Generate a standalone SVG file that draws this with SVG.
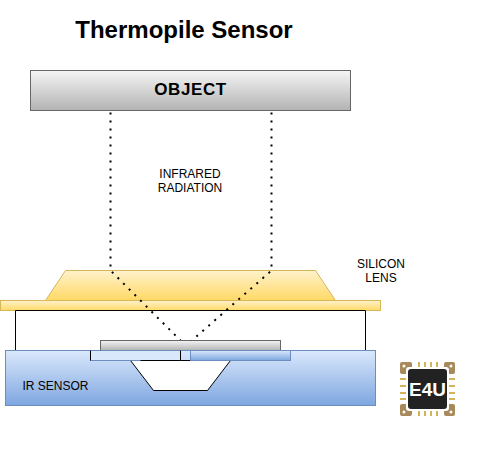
<svg xmlns="http://www.w3.org/2000/svg" width="500" height="458" viewBox="0 0 500 458">
<style>
text{font-family:"Liberation Sans",Arial,sans-serif;fill:#000;text-anchor:middle}
.s{font-size:12px}
.ray{fill:none;stroke:#000;stroke-width:2;stroke-dasharray:2 6}
</style>
<defs>
<linearGradient id="gray" x1="0" y1="0" x2="0" y2="1"><stop offset="0" stop-color="#f5f5f5"/><stop offset="1" stop-color="#b3b3b3"/></linearGradient>
<linearGradient id="yel" x1="0" y1="0" x2="0" y2="1"><stop offset="0" stop-color="#fff2cc"/><stop offset="1" stop-color="#ffd966"/></linearGradient>
<linearGradient id="blue" x1="0" y1="0" x2="0" y2="1"><stop offset="0" stop-color="#dae8fc"/><stop offset="1" stop-color="#7ea6e0"/></linearGradient>
</defs>
<g id="title"><text x="184" y="38" font-size="24" font-weight="bold">Thermopile Sensor</text></g>
<g id="object"><rect x="30.500" y="70.500" width="320" height="40" fill="url(#gray)" stroke="#666"/><text x="190.500" y="95" font-size="17" font-weight="bold" letter-spacing="0.600">OBJECT</text></g>
<g id="infrared-label"><text class="s" x="190" y="178">INFRARED</text><text class="s" x="190" y="192">RADIATION</text></g>
<g id="lens"><path d="M65.500 270.500H315.500L335.500 300.500H45.500Z" fill="url(#yel)" stroke="#d6b656"/></g>
<g id="lens-plate"><rect x="0.500" y="300.500" width="380" height="10" fill="url(#yel)" stroke="#d6b656"/></g>
<g id="lens-label"><text class="s" x="381" y="268">SILICON</text><text class="s" x="381" y="282">LENS</text></g>
<g id="housing"><path d="M15.500 350.500V310.500H365.500V350.500" fill="#fff" stroke="#000"/></g>
<g id="connectors"><path class="ray" d="M110.500 112.500V270.500L180.500 340.500"/><path class="ray" d="M271.500 112.500V270.500L180.500 350.500"/></g>
<g id="chip"><rect x="100.500" y="340.500" width="180" height="10" fill="url(#gray)" stroke="#666"/></g>
<g id="ir-sensor"><rect x="5.500" y="350.500" width="370" height="55" fill="url(#blue)" stroke="#6c8ebf"/><text class="s" x="55.500" y="390">IR SENSOR</text></g>
<g id="cavity"><path d="M130.500 360.500H230.500L207.500 390.500H153.500Z" fill="#fff" stroke="#000"/></g>
<g id="contact-left"><rect x="90.500" y="350.500" width="90" height="10" fill="#dae8fc" stroke="#6c8ebf"/><path d="M90.500 350.500V360.500M140.500 360.500H180.500V350.500" fill="none" stroke="#000"/></g>
<g id="contact-right"><rect x="190.500" y="350.500" width="100" height="10" fill="url(#blue)" stroke="#6c8ebf"/></g>
<g id="logo">
<g fill="#d4b45a">
<rect x="418" y="362" width="2" height="6"/><rect x="424" y="362" width="2" height="6"/><rect x="430" y="362" width="2" height="6"/><rect x="436" y="362" width="2" height="6"/>
<rect x="418" y="410" width="2" height="6"/><rect x="424" y="410" width="2" height="6"/><rect x="430" y="410" width="2" height="6"/><rect x="436" y="410" width="2" height="6"/>
<rect x="400" y="378" width="6" height="2"/><rect x="400" y="385" width="6" height="2"/><rect x="400" y="392" width="6" height="2"/><rect x="400" y="398" width="6" height="2"/>
<rect x="449" y="378" width="6" height="2"/><rect x="449" y="385" width="6" height="2"/><rect x="449" y="392" width="6" height="2"/><rect x="449" y="398" width="6" height="2"/>
</g>
<g fill="#a8895a"><rect x="400" y="362" width="12" height="12" rx="2"/><rect x="444" y="362" width="11" height="12" rx="2"/><rect x="400" y="404" width="12" height="12" rx="2"/><rect x="444" y="404" width="11" height="12" rx="2"/></g>
<g fill="#fff"><circle cx="404" cy="366" r="1.500"/><circle cx="451" cy="366" r="1.500"/><circle cx="404" cy="412" r="1.500"/><circle cx="451" cy="412" r="1.500"/></g>
<rect x="406" y="367" width="43" height="44" rx="3" fill="#fff"/>
<rect x="408" y="369" width="39" height="40" rx="3" fill="#222"/>
<text x="427.500" y="395.500" font-size="19" font-weight="bold" style="fill:#fff">E4U</text>
</g>
</svg>
